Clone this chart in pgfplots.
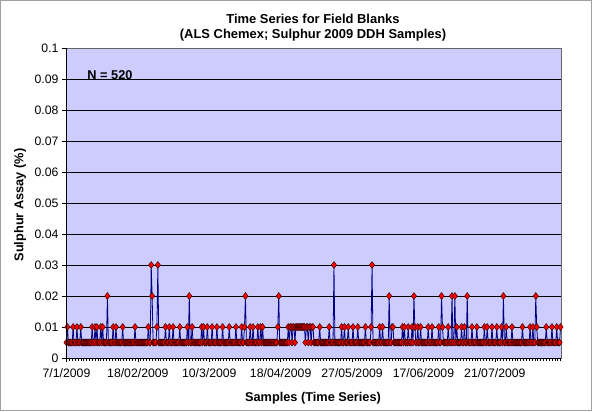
\documentclass[border=0pt]{standalone}
\usepackage{pgfplots}
\pgfplotsset{compat=1.18}
\usepackage{pgfplotstable}
\usepackage{fontspec}
\setmainfont{Liberation Sans}

\definecolor{plotbg}{RGB}{204,204,255}
\definecolor{navyline}{RGB}{0,0,128}

% field blank S assays, one row per sample in time order
\pgfplotstableread[row sep=\\]{
y\\
0.005\\0.01\\0.005\\0.005\\0.005\\0.005\\0.005\\0.01\\0.005\\0.005\\0.005\\0.01\\0.005\\0.005\\0.005\\0.01\\0.005\\0.005\\0.005\\0.005\\
0.005\\0.005\\0.005\\0.005\\0.005\\0.005\\0.005\\0.01\\0.005\\0.005\\0.01\\0.005\\0.01\\0.005\\0.005\\0.005\\0.01\\0.005\\0.01\\0.005\\
0.005\\0.005\\0.005\\0.02\\0.005\\0.005\\0.005\\0.005\\0.005\\0.01\\0.005\\0.005\\0.01\\0.005\\0.005\\0.005\\0.005\\0.005\\0.005\\0.01\\
0.005\\0.005\\0.005\\0.005\\0.005\\0.005\\0.005\\0.005\\0.005\\0.005\\0.005\\0.005\\0.01\\0.005\\0.005\\0.005\\0.005\\0.005\\0.005\\0.005\\
0.005\\0.005\\0.005\\0.005\\0.005\\0.005\\0.01\\0.005\\0.005\\0.03\\0.02\\0.005\\0.005\\0.005\\0.005\\0.01\\0.03\\0.005\\0.005\\0.005\\
0.005\\0.005\\0.005\\0.005\\0.01\\0.005\\0.005\\0.005\\0.01\\0.005\\0.005\\0.005\\0.01\\0.005\\0.005\\0.005\\0.005\\0.005\\0.005\\0.01\\
0.005\\0.005\\0.005\\0.005\\0.005\\0.005\\0.005\\0.01\\0.005\\0.02\\0.005\\0.005\\0.01\\0.005\\0.005\\0.005\\0.005\\0.005\\0.005\\0.005\\
0.005\\0.005\\0.01\\0.005\\0.01\\0.005\\0.005\\0.005\\0.01\\0.005\\0.005\\0.005\\0.005\\0.01\\0.005\\0.005\\0.005\\0.005\\0.01\\0.005\\
0.005\\0.005\\0.005\\0.005\\0.01\\0.005\\0.005\\0.005\\0.005\\0.005\\0.005\\0.01\\0.005\\0.005\\0.005\\0.005\\0.005\\0.005\\0.01\\0.005\\
0.005\\0.005\\0.005\\0.005\\0.01\\0.005\\0.005\\0.01\\0.02\\0.005\\0.005\\0.005\\0.005\\0.01\\0.005\\0.005\\0.01\\0.005\\0.005\\0.005\\
0.005\\0.01\\0.005\\0.005\\0.01\\0.005\\0.01\\0.005\\0.005\\0.005\\0.005\\0.005\\0.005\\0.005\\0.005\\0.005\\0.005\\0.005\\0.005\\0.005\\
0.005\\0.005\\0.01\\0.02\\0.005\\0.005\\0.005\\0.005\\0.005\\0.005\\0.005\\0.005\\0.005\\0.01\\0.005\\0.01\\0.01\\0.005\\0.01\\0.01\\
0.005\\0.01\\0.01\\0.01\\0.01\\0.01\\0.01\\0.01\\0.01\\0.01\\0.01\\0.005\\0.01\\0.01\\0.005\\0.01\\0.01\\0.005\\0.01\\0.01\\
0.005\\0.005\\0.005\\0.005\\0.005\\0.005\\0.01\\0.005\\0.005\\0.005\\0.005\\0.005\\0.005\\0.005\\0.005\\0.005\\0.01\\0.005\\0.005\\0.005\\
0.005\\0.03\\0.005\\0.005\\0.005\\0.005\\0.005\\0.005\\0.005\\0.01\\0.005\\0.005\\0.01\\0.005\\0.005\\0.005\\0.01\\0.005\\0.005\\0.005\\
0.005\\0.01\\0.005\\0.005\\0.005\\0.005\\0.01\\0.005\\0.005\\0.005\\0.005\\0.005\\0.005\\0.005\\0.01\\0.005\\0.005\\0.005\\0.005\\0.005\\
0.01\\0.03\\0.005\\0.005\\0.005\\0.005\\0.005\\0.005\\0.005\\0.01\\0.005\\0.005\\0.01\\0.005\\0.005\\0.005\\0.005\\0.005\\0.005\\0.02\\
0.005\\0.005\\0.01\\0.01\\0.005\\0.005\\0.005\\0.005\\0.005\\0.005\\0.005\\0.005\\0.005\\0.01\\0.005\\0.01\\0.005\\0.005\\0.005\\0.01\\
0.005\\0.005\\0.005\\0.01\\0.005\\0.02\\0.01\\0.005\\0.005\\0.01\\0.005\\0.005\\0.01\\0.005\\0.005\\0.005\\0.005\\0.005\\0.005\\0.005\\
0.01\\0.005\\0.005\\0.005\\0.01\\0.005\\0.005\\0.005\\0.005\\0.005\\0.005\\0.01\\0.005\\0.005\\0.02\\0.01\\0.005\\0.005\\0.005\\0.005\\
0.005\\0.01\\0.005\\0.005\\0.005\\0.02\\0.005\\0.005\\0.02\\0.005\\0.01\\0.005\\0.005\\0.005\\0.005\\0.01\\0.005\\0.005\\0.01\\0.005\\
0.005\\0.02\\0.005\\0.005\\0.005\\0.005\\0.01\\0.005\\0.005\\0.005\\0.005\\0.01\\0.005\\0.005\\0.005\\0.005\\0.005\\0.005\\0.005\\0.01\\
0.005\\0.005\\0.01\\0.005\\0.005\\0.005\\0.005\\0.01\\0.005\\0.005\\0.005\\0.005\\0.01\\0.005\\0.005\\0.005\\0.005\\0.01\\0.005\\0.02\\
0.005\\0.005\\0.01\\0.005\\0.005\\0.005\\0.005\\0.005\\0.01\\0.005\\0.005\\0.005\\0.005\\0.005\\0.005\\0.005\\0.005\\0.005\\0.005\\0.01\\
0.005\\0.005\\0.005\\0.005\\0.005\\0.005\\0.005\\0.01\\0.005\\0.005\\0.01\\0.005\\0.005\\0.02\\0.01\\0.005\\0.005\\0.005\\0.005\\0.005\\
0.005\\0.005\\0.005\\0.005\\0.01\\0.005\\0.005\\0.005\\0.005\\0.005\\0.01\\0.005\\0.005\\0.005\\0.005\\0.01\\0.005\\0.005\\0.005\\0.01\\
}\blanks

\begin{document}
\begin{tikzpicture}[x=1bp,y=1bp]
\useasboundingbox (0,0) rectangle (592,411);
\draw[gray!75, line width=0.8bp] (0.4,0.4) rectangle (591.6,410.6);
\begin{axis}[
    at={(66bp,53bp)}, anchor=south west,
    scale only axis,
    width=495bp, height=310bp,
    xmin=-0.5, xmax=519.5,
    ymin=0, ymax=0.1,
    axis background/.style={fill=plotbg},
    axis line style={draw=gray!80!black, line width=0.6bp},
    ytick={0,0.01,0.02,0.03,0.04,0.05,0.06,0.07,0.08,0.09,0.1},
    yticklabels={0,0.01,0.02,0.03,0.04,0.05,0.06,0.07,0.08,0.09,0.1},
    xtick={0,75,150,225,300,375,450},
    xticklabels={7/1/2009,18/02/2009,10/3/2009,18/04/2009,27/05/2009,17/06/2009,21/07/2009},
    minor xtick={0,3,...,519},
    ymajorgrids=true,
    grid style={black, line width=0.6bp},
    tick align=outside,
    tick pos=left,
    major tick length=4bp,
    minor tick length=3bp,
    tick style={black, line width=0.5bp},
    tick label style={font=\fontsize{12.3}{14}\selectfont},
    xticklabel style={yshift=-3bp},
]
\addplot[navyline, line width=0.8bp, mark=diamond*, mark size=3.5bp,
    mark options={fill=red, draw=black!85!red, line width=0.4bp}]
    table[x expr=\coordindex, y=y] {\blanks};
\end{axis}
\draw[black, line width=0.7bp] (66,363) -- (66,53) -- (561,53);
\node[font=\bfseries\fontsize{13}{15.5}\selectfont, align=center] at (313,383.5)
    {Time Series for Field Blanks\\(ALS Chemex; Sulphur 2009 DDH Samples)};
\node[font=\bfseries\fontsize{12.8}{15}\selectfont] at (110,336) {N = 520};
\node[font=\bfseries\fontsize{12.8}{15}\selectfont] at (313,13) {Samples (Time Series)};
\node[font=\bfseries\fontsize{12.8}{15}\selectfont, rotate=90] at (20,206) {Sulphur Assay (\%)};
\end{tikzpicture}
\end{document}
